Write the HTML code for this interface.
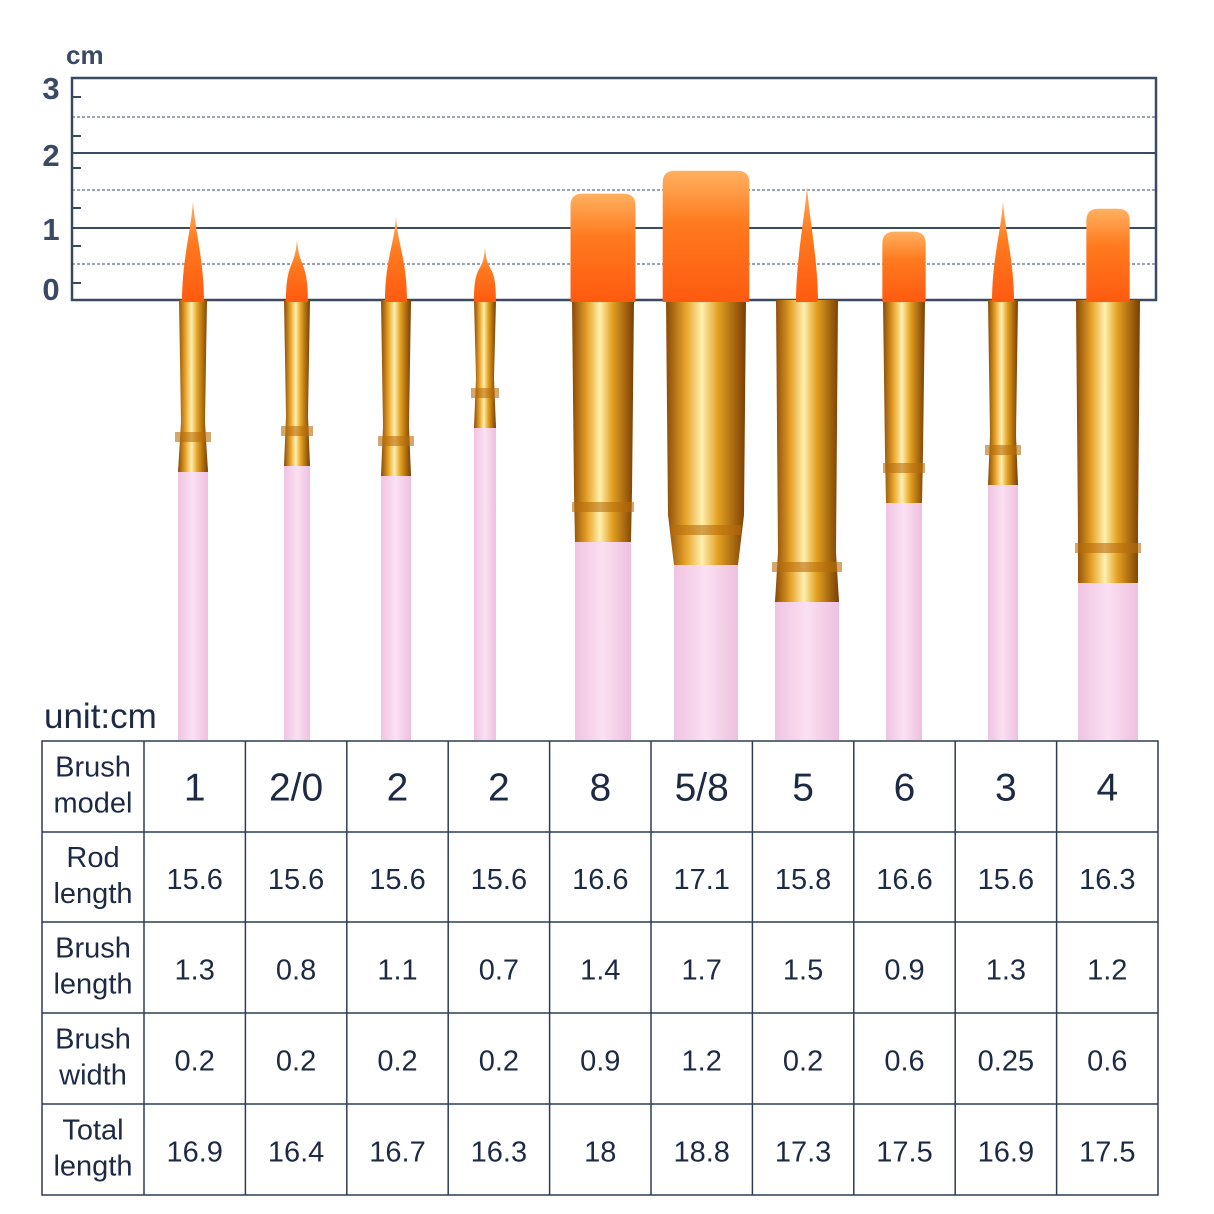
<!DOCTYPE html>
<html><head><meta charset="utf-8"><style>
html,body{margin:0;padding:0;background:#fff;}
svg{display:block;font-family:"Liberation Sans",sans-serif;}
</style></head><body>
<svg width="1214" height="1214" viewBox="0 0 1214 1214">
<defs>
<linearGradient id="gold" x1="0" x2="1" y1="0" y2="0">
<stop offset="0" stop-color="#8a4a06"/><stop offset="0.25" stop-color="#e8a42a"/><stop offset="0.45" stop-color="#fff0b0"/><stop offset="0.65" stop-color="#e3a020"/><stop offset="1" stop-color="#7a3e04"/></linearGradient>
<linearGradient id="hair" x1="0" x2="0" y1="0" y2="1">
<stop offset="0" stop-color="#ffb060"/><stop offset="0.4" stop-color="#ff7a1e"/><stop offset="1" stop-color="#ff5a10"/></linearGradient>
<linearGradient id="pink" x1="0" x2="1"><stop offset="0" stop-color="#efc4e2"/><stop offset="0.5" stop-color="#fbe0f2"/><stop offset="1" stop-color="#edc0df"/></linearGradient>
</defs>
<g id="ruler"></g>
<g id="brushes"></g>
<text x="44" y="728" font-size="35" fill="#1e2a44">unit:cm</text>
<g id="table"></g>
</svg>
<script>
const models=["1","2/0","2","2","8","5/8","5","6","3","4"];
const rodLength=["15.6","15.6","15.6","15.6","16.6","17.1","15.8","16.6","15.6","16.3"];
const brushLength=[1.3,0.8,1.1,0.7,1.4,1.7,1.5,0.9,1.3,1.2];
const brushWidth=[0.2,0.2,0.2,0.2,0.9,1.2,0.2,0.6,0.25,0.6];
const totalLength=["16.9","16.4","16.7","16.3","18","18.8","17.3","17.5","16.9","17.5"];
const rulerTicks=["0","1","2","3"];
const NS="http://www.w3.org/2000/svg";
function mk(t,a,p){const e=document.createElementNS(NS,t);for(const k in a)e.setAttribute(k,a[k]);p.appendChild(e);return e;}
const R=document.getElementById('ruler');
const y0=300,pxcm=76;
function ry(v){return y0-v*pxcm;}
let e=mk('text',{x:66,y:64,'font-size':26,'font-weight':'bold',fill:'#3b4a63'},R);e.textContent='cm';


mk('rect',{x:72,y:78,width:1084,height:222,fill:'none',stroke:'#3b4a63','stroke-width':2.5},R);
[153,228].forEach(y=>mk('line',{x1:72,x2:1156,y1:y,y2:y,stroke:'#3b4a63','stroke-width':2},R));
[117,190,264].forEach(y=>mk('line',{x1:72,x2:1156,y1:y,y2:y,stroke:'#3b4a63','stroke-width':1,'stroke-dasharray':'3,2'},R));
[97,136,168,208,246,283].forEach(y=>mk('line',{x1:72,x2:81,y1:y,y2:y,stroke:'#3b4a63','stroke-width':2},R));
const tickY=[289,229,155,88];
rulerTicks.forEach((t,i)=>{const el=mk('text',{x:51,y:tickY[i]+11,'font-size':31,'font-weight':'bold',fill:'#3b4a63','text-anchor':'middle'},R);el.textContent=t;

});
const B=document.getElementById('brushes');
const cx=[193,297,396,485,603,706,807,904,1003,1108];
const handleW=[30,26,30,22,56,64,64,36,30,60];
const ferruleW=[28,26,30,22,62,80,62,42,30,64];
const ferruleBot=[472,466,476,428,542,565,602,503,485,583];
brushLength.forEach((bl,i)=>{
 const g=mk('g',{},B);
 
 
 const x=cx[i],hw=handleW[i],fw=ferruleW[i],fb=ferruleBot[i];
 mk('rect',{x:x-hw/2,y:fb-5,width:hw,height:745-fb,fill:'url(#pink)'},g);
 mk('path',{d:`M${x-fw/2} 300 L${x+fw/2} 300 L${x+fw/2-2} ${fb-50} L${x+hw/2} ${fb} L${x-hw/2} ${fb} L${x-fw/2+2} ${fb-50}Z`,fill:'url(#gold)'},g);
 mk('rect',{x:x-hw/2-3,y:fb-40,width:hw+6,height:10,fill:'#b86c0c',opacity:0.6},g);
 const top=ry(bl);
 if(brushWidth[i]<=0.3){
  const w=Math.min(fw,22);
  mk('path',{d:`M${x-w/2} 302 C${x-w/2} 260 ${x-2} ${top+30} ${x} ${top} C${x+2} ${top+30} ${x+w/2} 260 ${x+w/2} 302Z`,fill:'url(#hair)'},g);
 } else {
  const w=brushWidth[i]*pxcm*0.95;
  mk('path',{d:`M${x-w/2} 302 L${x-w/2} ${top+12} Q${x-w/2} ${top} ${x-w/2+12} ${top} L${x+w/2-12} ${top} Q${x+w/2} ${top} ${x+w/2} ${top+12} L${x+w/2} 302Z`,fill:'url(#hair)'},g);
 }
});
const T=document.getElementById('table');
const tx0=42,tx1=1158,c0=144,ty=[741,832,922,1013,1104,1195];
const cw=(tx1-c0)/10;
const col='#2f3b55';
mk('rect',{x:tx0,y:741,width:tx1-tx0,height:454,fill:'none',stroke:col,'stroke-width':1.5},T);
ty.slice(1,5).forEach(y=>mk('line',{x1:tx0,x2:tx1,y1:y,y2:y,stroke:col,'stroke-width':1.5},T));
for(let k=0;k<10;k++){const x=c0+k*cw;mk('line',{x1:x,x2:x,y1:741,y2:1195,stroke:col,'stroke-width':1.5},T);}
const heads=[["Brush","model"],["Rod","length"],["Brush","length"],["Brush","width"],["Total","length"]];
const rows=[models,rodLength,brushLength.map(String),brushWidth.map(String),totalLength];
heads.forEach((h,r)=>{const yc=(ty[r]+ty[r+1])/2;
 const el=mk('text',{x:93,'font-size':29,fill:'#1e2a44','text-anchor':'middle'},T);
 
 
 mk('tspan',{x:93,y:yc-10},el).textContent=h[0];
 mk('tspan',{x:93,y:yc+26},el).textContent=h[1];
 rows[r].forEach((v,k)=>{const c=mk('text',{x:c0+cw*(k+0.5),y:r==0?yc+14:yc+12,'font-size':r==0?39:29,fill:'#1e2a44','text-anchor':'middle'},T);c.textContent=v;
 
 });
});
</script>
</body></html>
